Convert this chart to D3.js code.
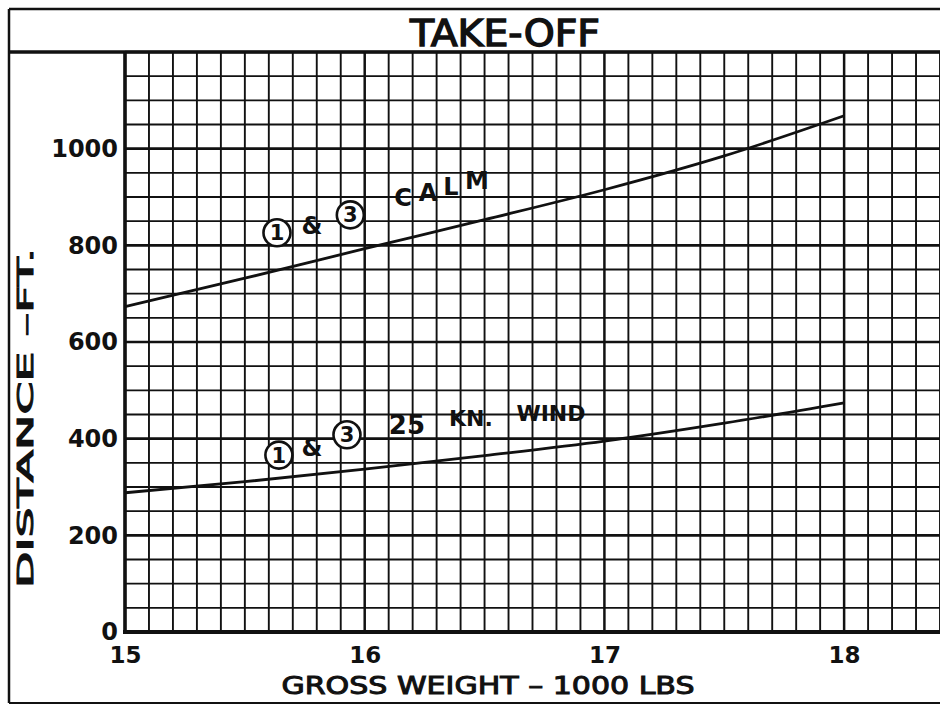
<!DOCTYPE html>
<html lang="en">
<head>
  <meta charset="utf-8">
  <title>Take-Off</title>
  <style>
    body { margin: 0; background: #fff; }
    svg { display: block; }
    text { font-family: "DejaVu Sans", sans-serif; fill: #111; }
  </style>
</head>
<body>
  <script src="https://cdnjs.cloudflare.com/ajax/libs/d3/7.8.5/d3.min.js"></script>
  <div id="chart"></div>
  <script>
// data
const weights = [15, 15.5, 16, 16.5, 17, 17.5, 18];
const calmFt = [673, 732, 793, 853, 915, 985, 1068];
const windFt = [288, 311, 337, 365, 395, 432, 474];
const xTickLabels = [15, 16, 17, 18];
const yTickLabels = [0, 200, 400, 600, 800, 1000];

const width = 940, height = 706;
const plotLeft = 125, plotRight = 940, plotTop = 52, plotBottom = 632;

const svg = d3.select('#chart').append('svg')
  .attr('width', width)
  .attr('height', height);

const x = d3.scaleLinear().domain([15, 18.4]).range([plotLeft, plotRight]);
const y = d3.scaleLinear().domain([0, 1200]).range([plotBottom, plotTop]);

// grid
const grid = svg.append('g').attr('stroke', '#111');
grid.selectAll('line.v')
  .data(d3.range(150, 185).map(d => d / 10))
  .enter().append('line')
  .attr('class', 'v')
  .attr('x1', d => x(d)).attr('x2', d => x(d))
  .attr('y1', plotTop).attr('y2', plotBottom)
  .attr('stroke-width', d => Math.abs(d - Math.round(d)) < 1e-6 ? 2.5 : 1.9);
grid.selectAll('line.h')
  .data(d3.range(0, 1201, 50))
  .enter().append('line')
  .attr('class', 'h')
  .attr('x1', plotLeft).attr('x2', plotRight)
  .attr('y1', d => y(d)).attr('y2', d => y(d))
  .attr('stroke-width', d => d % 200 === 0 ? 2.6 : 1.9);

// frame
const frame = svg.append('g').attr('stroke', '#111').attr('fill', 'none');
frame.append('line').attr('x1', 9).attr('x2', width).attr('y1', 9).attr('y2', 9).attr('stroke-width', 2.5);
frame.append('line').attr('x1', 9).attr('x2', 9).attr('y1', 9).attr('y2', 703).attr('stroke-width', 2.5);
frame.append('line').attr('x1', 9).attr('x2', width).attr('y1', 703).attr('y2', 703).attr('stroke-width', 2);
frame.append('line').attr('x1', 9).attr('x2', width).attr('y1', plotTop).attr('y2', plotTop).attr('stroke-width', 3.5);
frame.append('line').attr('x1', plotLeft).attr('x2', plotLeft).attr('y1', plotTop).attr('y2', plotBottom).attr('stroke-width', 3.5);
frame.append('line').attr('x1', plotLeft - 2).attr('x2', width).attr('y1', plotBottom).attr('y2', plotBottom).attr('stroke-width', 4);

// axes (labels only)
const xAxis = svg.append('g')
  .attr('transform', `translate(0,${plotBottom})`)
  .call(d3.axisBottom(x).tickValues(xTickLabels).tickSize(0).tickPadding(15).tickFormat(d3.format('d')));
xAxis.select('.domain').remove();
xAxis.selectAll('text')
  .style('font-family', '"DejaVu Sans", sans-serif')
  .style('font-size', '23px')
  .style('font-weight', 'bold')
  .attr('fill', '#111');

const yAxis = svg.append('g')
  .attr('transform', `translate(${plotLeft},0)`)
  .call(d3.axisLeft(y).tickValues(yTickLabels).tickSize(0).tickPadding(7).tickFormat(d3.format('d')));
yAxis.select('.domain').remove();
yAxis.selectAll('text')
  .style('font-family', '"DejaVu Sans", sans-serif')
  .style('font-size', '24px')
  .style('font-weight', 'bold')
  .attr('fill', '#111');

// titles
svg.append('text')
  .attr('x', 505).attr('y', 46)
  .attr('text-anchor', 'middle')
  .attr('textLength', 190).attr('lengthAdjust', 'spacingAndGlyphs')
  .attr('stroke', '#111').attr('stroke-width', 1.3)
  .style('font-family', '"DejaVu Sans Condensed", "DejaVu Sans", sans-serif')
  .style('font-size', '38px')
  .text('TAKE-OFF');

svg.append('text')
  .attr('x', 488).attr('y', 694)
  .attr('text-anchor', 'middle')
  .attr('textLength', 413).attr('lengthAdjust', 'spacingAndGlyphs')
  .attr('stroke', '#111').attr('stroke-width', 1)
  .style('font-size', '24px')
  .text('GROSS WEIGHT \u2013 1000 LBS');

svg.append('text')
  .attr('transform', 'translate(33,418) rotate(-90)')
  .attr('text-anchor', 'middle')
  .attr('textLength', 340).attr('lengthAdjust', 'spacingAndGlyphs')
  .attr('stroke', '#111').attr('stroke-width', 1)
  .style('font-size', '22px')
  .text('DISTANCE \u2013FT.');

// curves
const line = d3.line()
  .x(d => x(d[0]))
  .y(d => y(d[1]))
  .curve(d3.curveMonotoneX);

[calmFt, windFt].forEach(series => {
  svg.append('path')
    .datum(weights.map((w, i) => [w, series[i]]))
    .attr('fill', 'none')
    .attr('stroke', '#111')
    .attr('stroke-width', 2.8)
    .attr('d', line);
});

// curve annotations
function circled(wx, ft, label) {
  const g = svg.append('g').attr('transform', `translate(${x(wx)},${y(ft)})`);
  g.append('circle').attr('r', 13.5).attr('fill', '#fff').attr('stroke', '#111').attr('stroke-width', 2.6);
  g.append('text').attr('text-anchor', 'middle').attr('dy', '0.36em')
    .style('font-size', '21px').style('font-weight', 'bold').text(label);
}
function word(wx, ft, label, size) {
  svg.append('text')
    .attr('x', x(wx)).attr('y', y(ft))
    .attr('text-anchor', 'middle').attr('dy', '0.36em')
    .style('font-size', size + 'px').style('font-weight', 'bold')
    .text(label);
}

circled(15.634, 826, '1');
word(15.78, 842, '&', 24);
circled(15.94, 863, '3');
word(16.16, 900, 'C', 24);
word(16.264, 910, 'A', 24);
word(16.36, 923, 'L', 24);
word(16.468, 935, 'M', 24);

circled(15.642, 366, '1');
word(15.78, 383, '&', 24);
circled(15.926, 408, '3');
word(16.176, 428, '25', 26);
word(16.443, 443, 'KN.', 22);
word(16.777, 453, 'WIND', 22);
  </script>
</body>
</html>
